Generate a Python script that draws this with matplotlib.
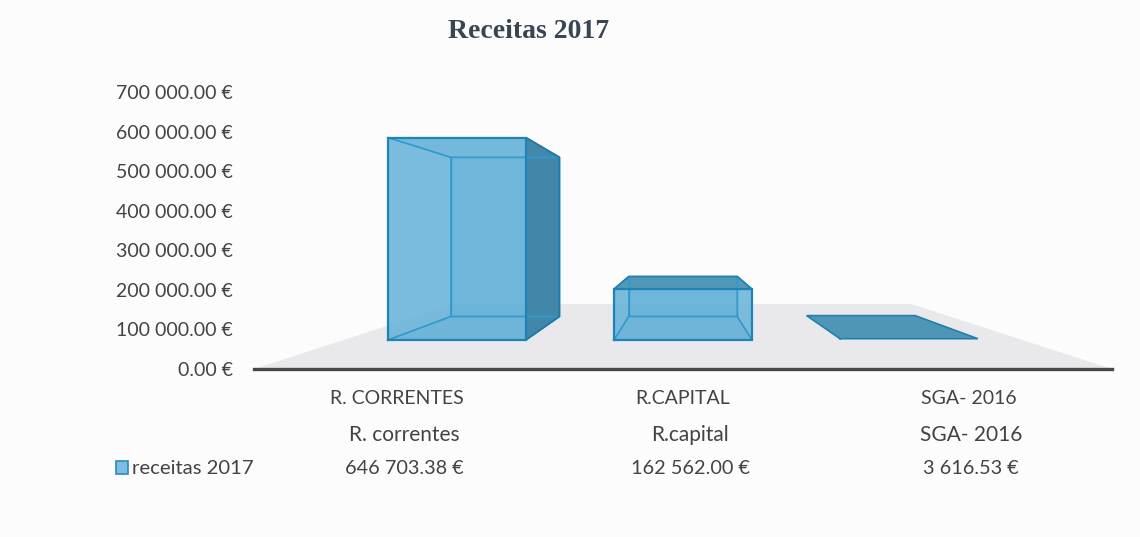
import matplotlib
matplotlib.use("Agg")
import matplotlib.pyplot as plt
from matplotlib.patches import Rectangle

categorias = ["R. CORRENTES", "R.CAPITAL", "SGA- 2016"]
linhas = ["R. correntes", "R.capital", "SGA- 2016"]
receitas = [646703.38, 162562.00, 3616.53]
ticks = [0, 100000, 200000, 300000, 400000, 500000, 600000, 700000]
serie = "receitas 2017"
titulo = "Receitas 2017"

# perspectiva: escala em cada plano de profundidade
horizonte = 351000
s_frente = 0.79
s_fundo = 0.622
s_chao = 0.532
largura = 0.61

W, H = 1140, 537
TXT = "#434343"
plt.rcParams["font.family"] = ["Lato", "DejaVu Sans"]
fig = plt.figure(figsize=(W / 100, H / 100), dpi=100, facecolor="#fcfcfd")
ax = fig.add_axes([254 / W, 1 - 369 / H, 858 / W, 277 / H])
ax.patch.set_alpha(0)
ax.set_xlim(0, 3)
ax.set_ylim(0, 700000)


def proj(x, v, s):
    return 1.5 + (x - 1.5) * s, v * s + (1 - s) * horizonte


def face(pts, cor, alpha, borda="#2f9ccb", lw=1.2):
    xs = [p[0] for p in pts]
    ys = [p[1] for p in pts]
    ax.fill(xs, ys, facecolor=cor, alpha=alpha, edgecolor="none", clip_on=False)
    ax.plot(xs + xs[:1], ys + ys[:1], color=borda, lw=lw, clip_on=False, solid_joinstyle="miter")


# chao
chao = [proj(0, 0, 1), proj(3, 0, 1), proj(3, 0, s_chao), proj(0, 0, s_chao)]
ax.fill([p[0] for p in chao], [p[1] for p in chao], facecolor="#e9e9ec", edgecolor="none", clip_on=False)

for i, v in enumerate(receitas):
    c = i + 0.5
    a = c - largura / 2
    b = c + largura / 2
    fa0, fb0 = proj(a, 0, s_frente), proj(b, 0, s_frente)
    fa1, fb1 = proj(a, v, s_frente), proj(b, v, s_frente)
    ta0, tb0 = proj(a, 0, s_fundo), proj(b, 0, s_fundo)
    ta1, tb1 = proj(a, v, s_fundo), proj(b, v, s_fundo)
    plano = v < 10000
    if not plano:
        face([ta0, tb0, tb1, ta1], "#62b0d8", 0.8, lw=1.0)
        face([fa0, fb0, tb0, ta0], "#5aa9d4", 0.7, lw=1.0)
        face([fa0, ta0, ta1, fa1], "#62b0d8", 0.6, lw=1.0)
    # lateral direita e topo ficam mais escuras quando vistas de fora
    if i == 0:
        face([fa1, fb1, tb1, ta1], "#62b0d8", 0.7, lw=1.0)
        face([fb0, tb0, tb1, fb1], "#3f84a8", 0.95, borda="#1f7aa8", lw=1.4)
    elif not plano:
        face([fb0, tb0, tb1, fb1], "#62b0d8", 0.55, lw=1.0)
        face([fa1, fb1, tb1, ta1], "#4f96b6", 0.95, borda="#2080ae", lw=1.2)
    else:
        face([fa1, fb1, tb1, ta1], "#4f96b6", 1, borda="#2080ae", lw=1.2)
    if not plano:
        face([fa0, fb0, fb1, fa1], "#62b0d8", 0.6, borda="#1f83b6", lw=1.6)

for lado in ["top", "right", "left"]:
    ax.spines[lado].set_visible(False)
ax.spines["bottom"].set_color("#45454a")
ax.spines["bottom"].set_linewidth(2.4)
ax.spines["bottom"].set_zorder(5)

ax.set_yticks(ticks)
ax.set_yticklabels([f"{t // 1000} 000.00 €" if t else "0.00 €" for t in ticks], fontsize=14, color=TXT)
ax.tick_params(axis="y", length=0, pad=15)
ax.set_xticks([0.5, 1.5, 2.5])
ax.set_xticklabels([])
ax.tick_params(axis="x", length=0)

# a tabela em baixo nao esta alinhada com o centro das categorias
desvio = [0.025, 0.025, 0.007]
tr = ax.get_xaxis_transform()
for i in range(3):
    ax.text(i + 0.5, -29 / 277, categorias[i], transform=tr, ha="center", va="center", fontsize=14, color=TXT)
    ax.text(i + 0.5 + desvio[i], -66 / 277, linhas[i], transform=tr, ha="center", va="center", fontsize=15, color=TXT)
    ax.text(i + 0.5 + desvio[i], -99 / 277, f"{receitas[i]:,.2f} €".replace(",", " "), transform=tr, ha="center", va="center", fontsize=14.3, color=TXT)

fig.add_artist(Rectangle((116 / W, 1 - 474 / H), 12 / W, 13 / H, transform=fig.transFigure, facecolor="#7dbde0", edgecolor="#2a8cbc", lw=1.2))
fig.text(132 / W, 1 - 468 / H, serie, ha="left", va="center", fontsize=14.6, color=TXT)
fig.text(529 / W, 1 - 31 / H, titulo, ha="center", va="center", fontsize=20, fontweight="bold", family="Liberation Serif", color="#3a4552")

fig.savefig("out.png", dpi=100, facecolor=fig.get_facecolor())
